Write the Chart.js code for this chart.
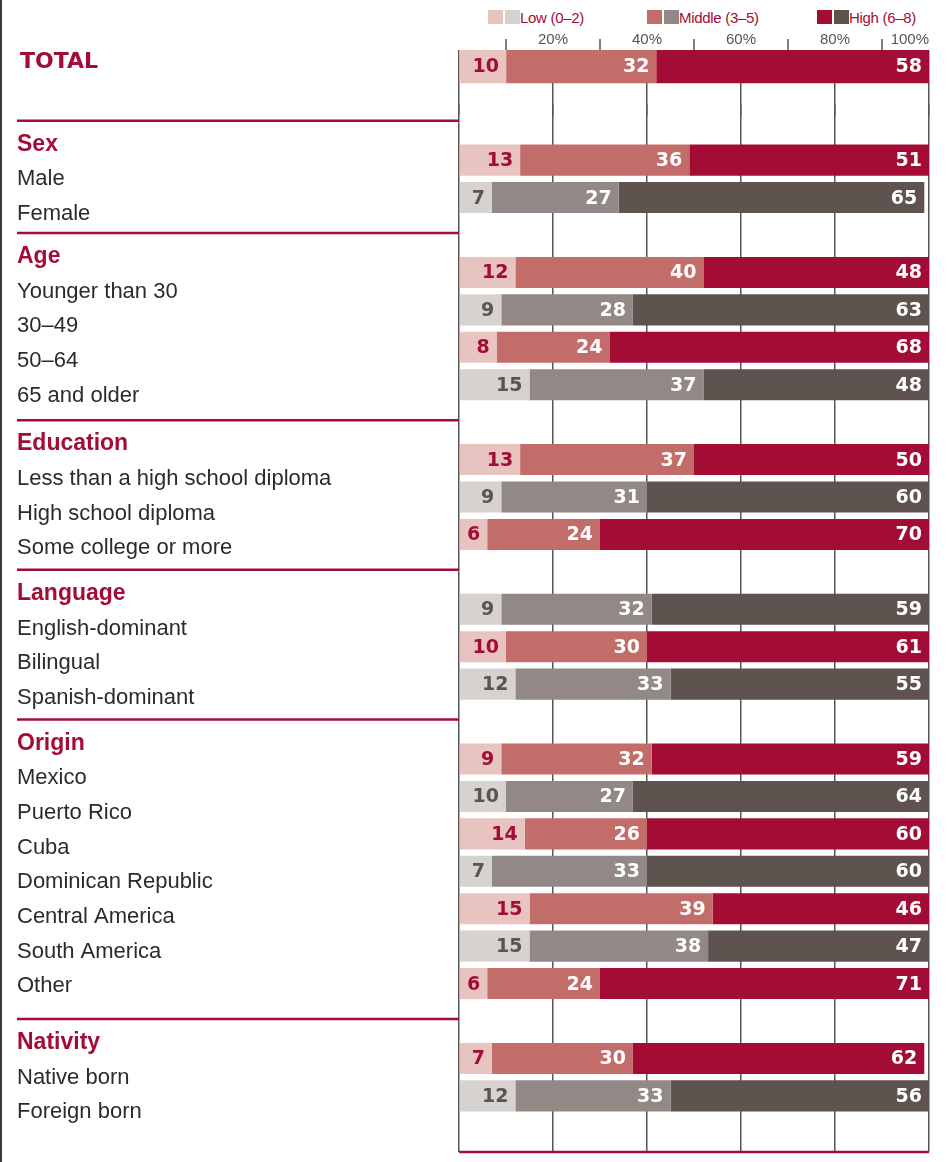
<!DOCTYPE html>
<html>
<head>
<meta charset="utf-8">
<script src="https://cdn.jsdelivr.net/npm/chart.js@4.4.1/dist/chart.umd.min.js"></script>
<style>
  html, body { margin: 0; padding: 0; background: #fff; }
  #page { position: relative; width: 947px; height: 1162px; overflow: hidden; }
  #edge { position: absolute; left: 0; top: 0; width: 2px; height: 1162px; background: #3a3a3a; }
  #legend { position: absolute; left: 0; top: 0; width: 947px; height: 30px;
            font-family: "Liberation Sans", Arial, sans-serif; font-size: 15px; color: #a30d35; }
  .sw { position: absolute; top: 10px; width: 15px; height: 14px; }
  .lt { position: absolute; top: 9px; line-height: 17px; letter-spacing: -0.3px; white-space: nowrap; }
  canvas { position: absolute; left: 0; top: 0; }
</style>
</head>
<body>
<div id="page">
  <div id="edge"></div>
  <div id="legend"></div>
  <canvas id="totalChart" width="947" height="116"></canvas>
  <canvas id="groupChart" width="947" height="1162"></canvas>
</div>
<script>
// datos
const categories = ['TOTAL', 'Male', 'Female', 'Younger than 30', '30–49', '50–64', '65 and older',
  'Less than a high school diploma', 'High school diploma', 'Some college or more',
  'English-dominant', 'Bilingual', 'Spanish-dominant',
  'Mexico', 'Puerto Rico', 'Cuba', 'Dominican Republic', 'Central America', 'South America', 'Other',
  'Native born', 'Foreign born'];
const groupNames = ['Sex', 'Age', 'Education', 'Language', 'Origin', 'Nativity'];
const groupIndex = [-1, 0, 0, 1, 1, 1, 1, 2, 2, 2, 3, 3, 3, 4, 4, 4, 4, 4, 4, 4, 5, 5];
const lowShare = [10, 13, 7, 12, 9, 8, 15, 13, 9, 6, 9, 10, 12, 9, 10, 14, 7, 15, 15, 6, 7, 12];
const middleShare = [32, 36, 27, 40, 28, 24, 37, 37, 31, 24, 32, 30, 33, 32, 27, 26, 33, 39, 38, 24, 30, 33];
const highShare = [58, 51, 65, 48, 63, 68, 48, 50, 60, 70, 59, 61, 55, 59, 64, 60, 60, 46, 47, 71, 62, 56];
const rowTone = ['red', 'red', 'gray', 'red', 'gray', 'red', 'gray', 'red', 'gray', 'red', 'gray',
  'red', 'gray', 'red', 'gray', 'red', 'gray', 'red', 'gray', 'red', 'red', 'gray'];
const legendLabels = ['Low (0–2)', 'Middle (3–5)', 'High (6–8)'];
const axisTicks = [0, 20, 40, 60, 80, 100];
const topTickMarks = [10, 30, 50, 70, 90];

// colores
const palette = {
  red: ['#e8c4c0', '#c36d6a', '#a30d35'],
  gray: ['#d6d2cf', '#928885', '#5e534f'],
};
const accent = '#a30d35';
const gridColor = '#555';

// leyenda (HTML)
const legendX = [488, 647, 817];
const legendEl = document.getElementById('legend');
legendLabels.forEach((txt, k) => {
  const a = document.createElement('div');
  a.className = 'sw'; a.style.left = legendX[k] + 'px'; a.style.background = palette.red[k];
  const b = document.createElement('div');
  b.className = 'sw'; b.style.left = (legendX[k] + 17) + 'px'; b.style.background = palette.gray[k];
  const t = document.createElement('div');
  t.className = 'lt'; t.style.left = (legendX[k] + 32) + 'px'; t.textContent = txt;
  legendEl.append(a, b, t);
});

// filas del gráfico principal: un hueco por cada grupo + hueco final
const slotLabels = [], slotRow = [], slotHeader = [];
for (let i = 1; i < categories.length; i++) {
  if (groupIndex[i] !== groupIndex[i - 1]) {
    slotLabels.push(''); slotRow.push(-1); slotHeader.push(groupIndex[i]);
  }
  slotLabels.push(categories[i]); slotRow.push(i); slotHeader.push(-1);
}
slotLabels.push(''); slotRow.push(-1); slotHeader.push(-1);

const pick = (arr, rows) => rows.map(r => (r < 0 ? null : arr[r]));
const toneOf = rows => rows.map(r => (r < 0 ? 'red' : rowTone[r]));

// etiquetas de valor dentro de cada segmento
const valueLabels = {
  id: 'valueLabels',
  afterDatasetsDraw(chart, args, opts) {
    const { ctx, chartArea } = chart;
    ctx.save();
    ctx.font = 'bold 19px "DejaVu Sans"';
    ctx.textAlign = 'right';
    ctx.textBaseline = 'middle';
    chart.data.datasets.forEach((ds, di) => {
      chart.getDatasetMeta(di).data.forEach((bar, i) => {
        const v = ds.data[i];
        if (v == null) return;
        const tone = opts.tones[i];
        ctx.fillStyle = di === 0 ? palette[tone][2] : '#fff';
        ctx.fillText(String(v), Math.min(bar.x, chartArea.right) - 7, bar.y + 1);
      });
    });
    ctx.restore();
  }
};

function makeDatasets(rows, tones) {
  return [lowShare, middleShare, highShare].map((arr, k) => ({
    label: legendLabels[k],
    data: pick(arr, rows),
    backgroundColor: c => palette[tones[c.dataIndex]][k],
    borderWidth: 0,
  }));
}

const gridX = {
  min: 0, max: 100, stacked: true,
  afterBuildTicks: s => { s.ticks = axisTicks.map(v => ({ value: v })); },
  grid: { color: gridColor, lineWidth: 1.5, drawTicks: false },
  border: { display: false },
};

// 1. TOTAL (con eje superior)
const totalRows = [0, -1];
const totalTones = toneOf(totalRows);
new Chart(document.getElementById('totalChart'), {
  type: 'bar',
  data: { labels: ['TOTAL', ''], datasets: makeDatasets(totalRows, totalTones) },
  options: {
    indexAxis: 'y',
    responsive: false,
    animation: false,
    devicePixelRatio: 1,
    layout: { padding: { left: 459, right: 18, top: 0, bottom: 0 } },
    datasets: { bar: { barPercentage: 1, categoryPercentage: 1 } },
    plugins: { legend: { display: false }, tooltip: { enabled: false }, valueLabels: { tones: totalTones } },
    scales: {
      x: {
        ...gridX,
        position: 'top',
        afterFit: s => { s.height = 50; s.paddingLeft = 0; s.paddingRight = 0; },
        ticks: {
          padding: 1,
          align: 'inner',
          color: '#555',
          font: { family: '"Liberation Sans", Arial, sans-serif', size: 15 },
          callback: v => (v === 0 ? '' : v + '%'),
        },
      },
      y: { stacked: true, display: false },
    },
  },
  plugins: [valueLabels, {
    id: 'totalDecor',
    afterDraw(chart) {
      const { ctx, chartArea, scales } = chart;
      ctx.save();
      ctx.strokeStyle = gridColor;
      ctx.lineWidth = 1.5;
      topTickMarks.forEach(v => {
        const x = Math.round(scales.x.getPixelForValue(v));
        ctx.beginPath();
        ctx.moveTo(x, chartArea.top - 11);
        ctx.lineTo(x, chartArea.top);
        ctx.stroke();
      });
      ctx.fillStyle = accent;
      ctx.font = 'bold 22px "DejaVu Sans"';
      ctx.textBaseline = 'alphabetic';
      ctx.fillText(categories[0], 20, scales.y.getPixelForValue(0) + 1.5);
      ctx.restore();
    }
  }]
});

// 2. Grupos
const groupTones = toneOf(slotRow);
new Chart(document.getElementById('groupChart'), {
  type: 'bar',
  data: { labels: slotLabels, datasets: makeDatasets(slotRow, groupTones) },
  options: {
    indexAxis: 'y',
    responsive: false,
    animation: false,
    devicePixelRatio: 1,
    layout: { padding: { left: 459, right: 18, top: 104, bottom: 10 } },
    datasets: { bar: { barPercentage: 0.83, categoryPercentage: 1 } },
    plugins: { legend: { display: false }, tooltip: { enabled: false }, valueLabels: { tones: groupTones } },
    scales: {
      x: { ...gridX, ticks: { display: false } },
      y: { stacked: true, display: false },
    },
  },
  plugins: [valueLabels, {
    id: 'sideLabels',
    afterDraw(chart) {
      const { ctx, chartArea, scales } = chart;
      ctx.save();
      // línea inferior del marco
      ctx.strokeStyle = accent;
      ctx.lineWidth = 2.5;
      ctx.beginPath();
      ctx.moveTo(chartArea.left, chartArea.bottom);
      ctx.lineTo(chartArea.right, chartArea.bottom);
      ctx.stroke();
      ctx.textBaseline = 'alphabetic';
      slotHeader.forEach((g, s) => {
        if (g < 0) return;
        const ruleY = scales.y.getPixelForValue(s) - 2;
        ctx.strokeStyle = accent;
        ctx.lineWidth = 2.5;
        ctx.beginPath();
        ctx.moveTo(17, ruleY);
        ctx.lineTo(chartArea.left, ruleY);
        ctx.stroke();
        ctx.fillStyle = accent;
        ctx.font = 'bold 23px "Liberation Sans"';
        ctx.fillText(groupNames[g], 17, ruleY + 30);
        ctx.fillStyle = '#2b2b2b';
        ctx.font = '22px "Liberation Sans"';
        let k = 0;
        categories.forEach((name, r) => {
          if (groupIndex[r] !== g) return;
          k++;
          ctx.fillText(name, 17, ruleY + 30 + 34.7 * k);
        });
      });
      ctx.restore();
    }
  }]
});
</script>
</body>
</html>
